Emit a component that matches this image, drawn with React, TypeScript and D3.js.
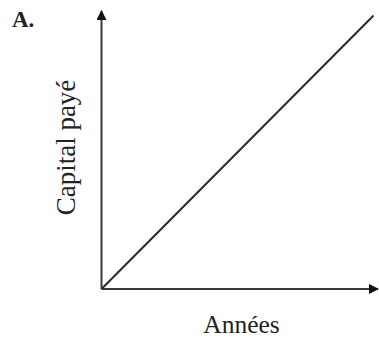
import React from 'react';
import * as d3 from 'd3';

// Schematic: paid capital grows linearly with years
const years = [0, 10];
const capital = [0, 10];
const panelLabel = 'A.';
const xTitle = 'Années';
const yTitle = 'Capital payé';

const W = 379;
const H = 339;

const App = () => {
  const x = d3.scaleLinear().domain([0, 10.2]).range([101.5, 379]);
  const y = d3.scaleLinear().domain([0, 10.2]).range([289, 10]);

  const pts = years.map((yr, i) => ({ yr, cap: capital[i] }));
  const line = d3
    .line<{ yr: number; cap: number }>()
    .x(d => x(d.yr))
    .y(d => y(d.cap));

  const [x0, x1] = x.range();
  const [y0, y1] = y.range();
  const axisColor = '#3a3a3a';

  return (
    <svg
      width={W}
      height={H}
      style={{ position: 'absolute', left: 0, top: 0, background: '#fff' }}
      fontFamily="'Liberation Serif', 'DejaVu Serif', serif"
    >
      <defs>
        <marker id="arrow" viewBox="0 0 10 10" refX="9" refY="5" markerWidth="5" markerHeight="5" orient="auto">
          <path d="M0,0 L10,5 L0,10 z" fill="#111" />
        </marker>
      </defs>

      {/* axes */}
      <line x1={x0} y1={y0} x2={x1 - 1} y2={y0} stroke={axisColor} strokeWidth={2} markerEnd="url(#arrow)" />
      <line x1={x0} y1={y0} x2={x0} y2={y1 + 1} stroke={axisColor} strokeWidth={2} markerEnd="url(#arrow)" />

      {/* linear relation */}
      <path d={line(pts) || ''} fill="none" stroke="#2a2a2a" strokeWidth={2} />

      <text x={12} y={27} fontSize={23} fontWeight="bold" fill="#222">
        {panelLabel}
      </text>
      <text x={241.5} y={333} fontSize={25.5} textAnchor="middle" fill="#222">
        {xTitle}
      </text>
      <text
        transform={`translate(75,${(y0 + y1) / 2 - 2}) rotate(-90)`}
        fontSize={27}
        textAnchor="middle"
        fill="#222"
      >
        {yTitle}
      </text>
    </svg>
  );
};

export default App;
